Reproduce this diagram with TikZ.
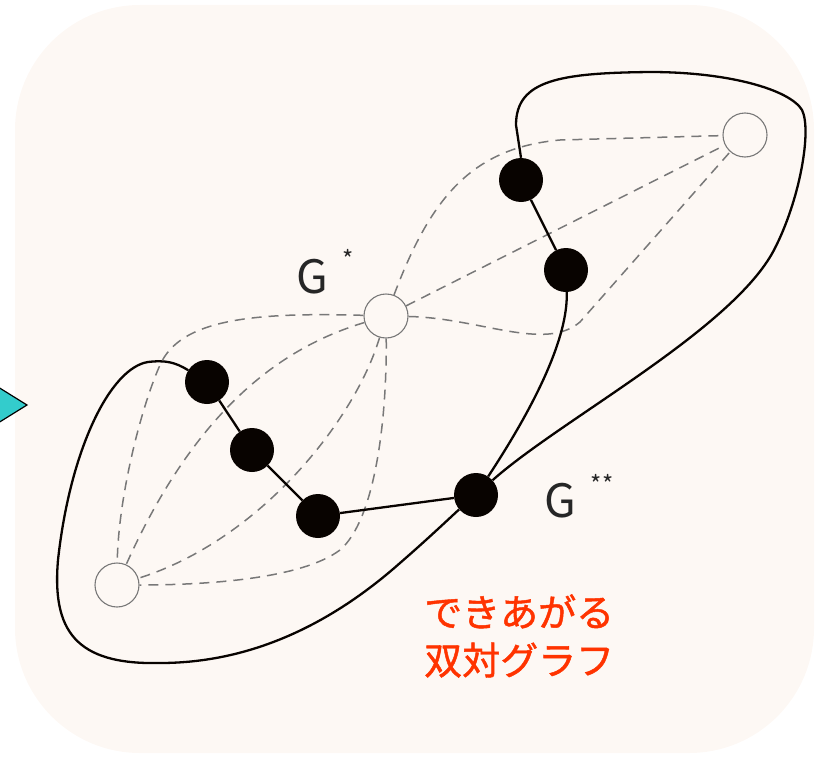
\documentclass[tikz,border=0pt]{standalone}
\usepackage{fontspec}
\newfontfamily\cjk{Noto Sans CJK JP}
\newfontfamily\cjkb[FakeBold=1.2]{Noto Sans CJK JP}
\definecolor{bgc}{RGB}{253,248,244}
\definecolor{tealc}{RGB}{51,204,204}
\definecolor{redc}{RGB}{255,51,0}
\definecolor{dashc}{RGB}{120,120,120}
\definecolor{vblack}{RGB}{8,3,0}
\begin{document}
\begin{tikzpicture}[x=1pt,y=-1pt,
  bvert/.style={circle,fill=vblack,minimum size=44pt,inner sep=0pt},
  wvert/.style={circle,draw=dashc,line width=1.1pt,fill=bgc,minimum size=44pt,inner sep=0pt},
  dualedge/.style={draw=dashc,line width=1.5pt,dash pattern=on 10pt off 7pt},
  gedge/.style={draw=vblack,line width=2.3pt},
  glabel/.style={font=\cjk\fontsize{46}{46}\selectfont,inner sep=0pt,anchor=base west,text=black!85},
  starlabel/.style={font=\cjk\fontsize{24}{24}\selectfont,inner sep=0pt,anchor=base,text=black!85}]
\useasboundingbox (0,0) rectangle (818,757);
\fill[bgc,rounded corners=125pt] (15,5) rectangle (814,753);
\draw[fill=tealc,line width=1.2pt,line join=miter] (-10,382) -- (27,405) -- (-10,428) -- cycle;

% dual (G*) vertices
\node[wvert] (TR) at (745,135) {};
\node[wvert] (C) at (386,316) {};
\node[wvert] (BL) at (117,585) {};

% G** vertices
\node[bvert] (B1) at (521,180) {};
\node[bvert] (B2) at (566,270) {};
\node[bvert] (B3) at (207,382) {};
\node[bvert] (B4) at (252,450) {};
\node[bvert] (B5) at (318,516) {};
\node[bvert] (B6) at (476,495) {};

% dashed dual edges C--TR
\path[dualedge] (C) .. controls (430,200) and (470,148) .. (560,140) -- (TR);
\path[dualedge] (C) -- (TR);
\path[dualedge] (C) .. controls (480,318) and (545,352) .. (580,322) -- (TR);
% dashed dual edges C--BL
\path[dualedge] (C) .. controls (250,312) and (180,320) .. (160,365) .. controls (140,410) and (118,500) .. (BL);
\path[dualedge] (C) .. controls (290,345) and (200,400) .. (BL);
\path[dualedge] (C) .. controls (355,420) and (260,540) .. (BL);
\path[dualedge] (C) .. controls (387,420) and (375,520) .. (340,550) .. controls (300,580) and (200,585) .. (BL);

% solid edges
\path[gedge] (B1) -- (B2);
\path[gedge] (B3) -- (B4) -- (B5) -- (B6);
\path[gedge] (B2) .. controls (568,330) and (545,390) .. (B6);
\path[gedge] (B1.north) -- (516,125) .. controls (516,80) and (560,73) .. (650,72)
  .. controls (730,72) and (790,90) .. (802,110)
  .. controls (812,130) and (800,200) .. (774,250)
  .. controls (732,330) and (560,420) .. (B6);
\path[gedge] (B3) .. controls (175,362) and (165,360) .. (148,362)
  .. controls (110,368) and (70,450) .. (58,560)
  .. controls (52,630) and (75,665) .. (160,663)
  .. controls (250,663) and (330,625) .. (400,563)
  .. controls (430,537) and (455,513) .. (B6);

% labels
\node[glabel] (g1) at (296,293) {G};
\node[starlabel] (s1) at (348,268) {*};
\node[glabel] (g2) at (544,517) {G};
\node[starlabel] (s2) at (602,493) {**};
\node[font=\cjkb\fontsize{38}{48}\selectfont,text=redc,align=left,anchor=west,inner sep=0pt] (jp) at (424,636) {できあがる\\双対グラフ};
\end{tikzpicture}
\end{document}
